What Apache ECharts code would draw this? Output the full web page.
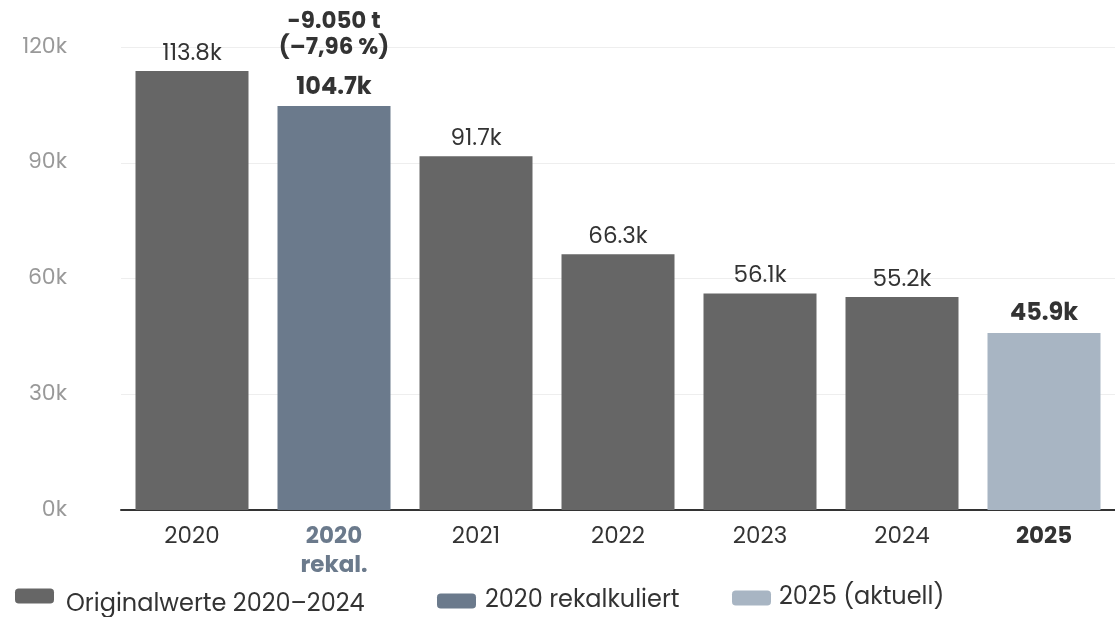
<!DOCTYPE html>
<html><head><meta charset="utf-8">
<script src="https://cdn.jsdelivr.net/npm/echarts@6/dist/echarts.min.js"></script>
<style>html,body{margin:0;padding:0;background:#fff}#c{width:1115px;height:617px}</style>
</head><body><div id="c"></div>
<script>
const categories = ['2020', '2020\nrekal.', '2021', '2022', '2023', '2024', '2025'];
const originalValues = [113800, '-', 91700, 66300, 56100, 55200, '-'];
const recalcValues = ['-', 104700, '-', '-', '-', '-', '-'];
const currentValues = ['-', '-', '-', '-', '-', '-', 45900];
const yTicks = [0, 30000, 60000, 90000, 120000];
const seriesNames = ['Originalwerte 2020–2024', '2020 rekalkuliert', '2025 (aktuell)'];
const annotation = ['-9.050 t', '(–7,96 %)'];

const FONT = "Poppins, 'Open Sans', sans-serif";
const kfmt = v => (v / 1000).toFixed(1) + 'k';
const chart = echarts.init(document.getElementById('c'));
const legendBase = {
  padding: 0, itemWidth: 39, itemHeight: 15, icon: 'roundRect',
  textStyle: { fontSize: 24, color: '#333', fontFamily: FONT }
};
chart.setOption({
  animation: false,
  textStyle: { fontFamily: FONT },
  grid: { left: 121, right: -6, top: 47, bottom: 107 },
  legend: [
    Object.assign({}, legendBase, {
      data: [seriesNames[0]], left: 15, top: 569,
      formatter: n => '{s|}\n{g|}{t|' + n + '}',
      textStyle: { fontSize: 24, color: '#333', fontFamily: FONT,
        rich: { s: { lineHeight: 17, fontSize: 24 }, g: { width: 7, fontSize: 24, lineHeight: 30 },
                t: { fontSize: 24, lineHeight: 30, color: '#333', fontFamily: FONT } } }
    }),
    Object.assign({}, legendBase, {
      data: [seriesNames[1]], left: 437, top: 589,
      formatter: n => '{g|}{t|' + n + '}',
      textStyle: { fontSize: 24, color: '#333', fontFamily: FONT,
        rich: { g: { width: 4, fontSize: 24, lineHeight: 30 },
                t: { fontSize: 24, lineHeight: 30, color: '#333', fontFamily: FONT } } }
    }),
    Object.assign({}, legendBase, {
      data: [seriesNames[2]], left: 732, top: 586,
      formatter: n => '{g|}{t|' + n + '}',
      textStyle: { fontSize: 24, color: '#333', fontFamily: FONT,
        rich: { g: { width: 3, fontSize: 24, lineHeight: 30 },
                t: { fontSize: 24, lineHeight: 30, color: '#333', fontFamily: FONT } } }
    })
  ],
  xAxis: {
    type: 'category', data: categories,
    axisLine: { lineStyle: { color: '#333', width: 2 } },
    axisTick: { show: false },
    axisLabel: {
      fontSize: 23, color: '#333', margin: 13, lineHeight: 28, fontFamily: FONT,
      formatter: (v, i) => i === 1 ? '{r|' + v.replace('\n', '}\n{r|') + '}' : (i === 6 ? '{b|' + v + '}' : v),
      rich: {
        r: { fontSize: 23, fontWeight: 'bold', color: '#6b7a8c', lineHeight: 29, fontFamily: FONT },
        b: { fontSize: 23, fontWeight: 'bold', color: '#333', lineHeight: 28, fontFamily: FONT }
      }
    }
  },
  yAxis: {
    type: 'value', min: yTicks[0], max: yTicks[yTicks.length - 1], interval: 30000,
    axisLine: { show: false }, axisTick: { show: false },
    splitLine: { lineStyle: { color: '#eeeeee' } },
    axisLabel: { fontSize: 22, color: '#999', margin: 54, formatter: v => (v / 1000) + 'k', fontFamily: FONT }
  },
  series: [
    { name: seriesNames[0], type: 'bar', stack: 's', barWidth: 113, data: originalValues,
      itemStyle: { color: '#666666' },
      label: { show: true, position: 'top', fontSize: 23, lineHeight: 28, color: '#333', distance: 3, formatter: p => kfmt(p.value) } },
    { name: seriesNames[1], type: 'bar', stack: 's', barWidth: 113, data: recalcValues,
      itemStyle: { color: '#6b7a8c' },
      label: { show: true, position: 'top', distance: 4,
        formatter: p => '{a|' + annotation[0] + '}\n{a|' + annotation[1] + '}\n{g|}\n{b|' + kfmt(p.value) + '}',
        rich: {
          a: { fontSize: 23, fontWeight: 'bold', color: '#333', lineHeight: 26, fontFamily: FONT },
          g: { lineHeight: 13 },
          b: { fontSize: 24, fontWeight: 'bold', color: '#333', lineHeight: 28, fontFamily: FONT }
        } } },
    { name: seriesNames[2], type: 'bar', stack: 's', barWidth: 113, data: currentValues,
      itemStyle: { color: '#a8b5c3' },
      label: { show: true, position: 'top', fontSize: 24, lineHeight: 28, fontWeight: 'bold', color: '#333', distance: 5, formatter: p => kfmt(p.value) } }
  ]
});
</script></body></html>
